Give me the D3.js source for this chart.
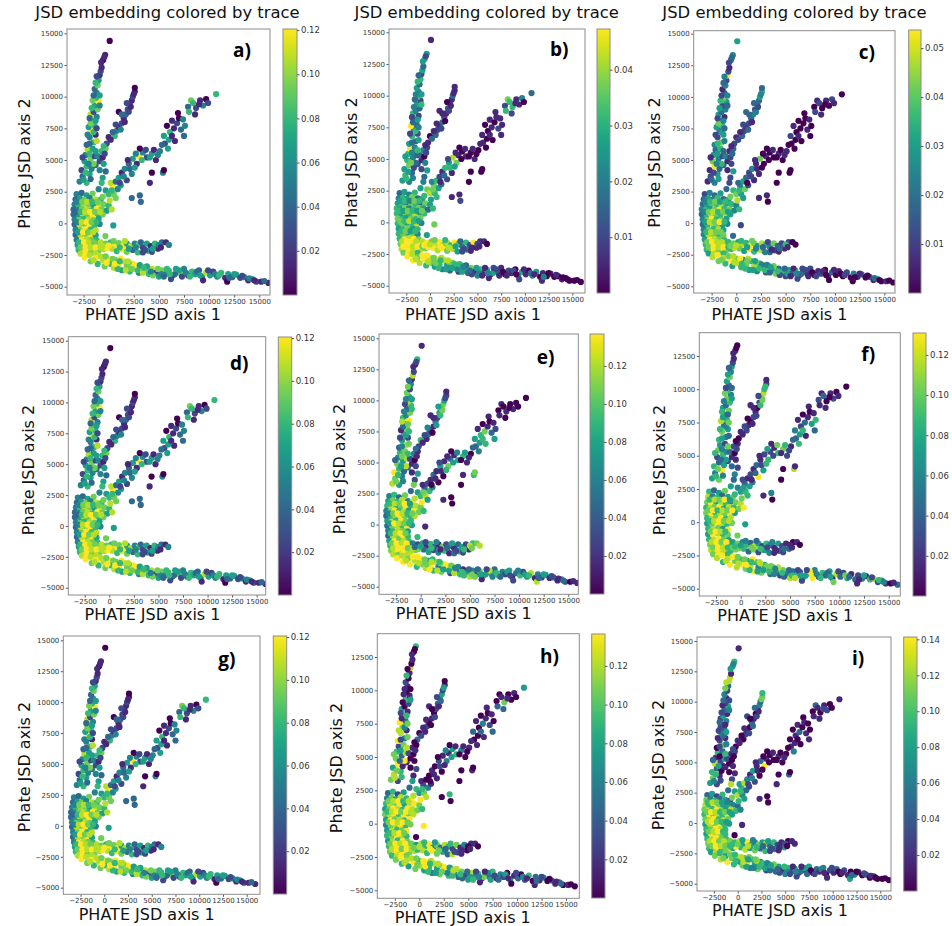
<!DOCTYPE html>
<html lang="en">
<head>
<meta charset="UTF-8" />
<title>JSD embedding colored by trace</title>
<script src="https://d3js.org/d3.v7.min.js"></script>
<style>
  body { margin: 0; background: #fff; }
  svg { display: block; font-family: "DejaVu Sans", sans-serif; }
  .tick text { fill: #333; }
  .tick line { stroke: #555; }
</style>
</head>
<body>
<svg width="952" height="926"></svg>
<script>
// ---- data ----
const xTicks = [-2500, 0, 2500, 5000, 7500, 10000, 12500, 15000];
const yTicks = [-5000, -2500, 0, 2500, 5000, 7500, 10000, 12500, 15000];
const panelNames = ["a)", "b)", "c)", "d)", "e)", "f)", "g)", "h)", "i)"];
const traceMax = [0.1205, 0.0473, 0.0537, 0.1205, 0.1368, 0.1309, 0.1205, 0.1365, 0.1413];
const cbTicks = [
  [0.02, 0.04, 0.06, 0.08, 0.10, 0.12],
  [0.01, 0.02, 0.03, 0.04],
  [0.01, 0.02, 0.03, 0.04, 0.05],
  [0.02, 0.04, 0.06, 0.08, 0.10, 0.12],
  [0.02, 0.04, 0.06, 0.08, 0.10, 0.12],
  [0.02, 0.04, 0.06, 0.08, 0.10, 0.12],
  [0.02, 0.04, 0.06, 0.08, 0.10, 0.12],
  [0.02, 0.04, 0.06, 0.08, 0.10, 0.12],
  [0.02, 0.04, 0.06, 0.08, 0.10, 0.12, 0.14]
];

// PHATE coordinates (axis 1, axis 2), shared by all panels
const core = [
  [-3200,2300],[-2700,2400],[-2200,2200],[-1600,2350],
  [-3300,1900],[-2850,1950],[-2400,1850],[-1900,2000],[-1300,1900],[-800,1850],
  [-3400,1500],[-3000,1450],[-2500,1550],[-2000,1500],[-1500,1450],[-1000,1550],[-500,1500],[0,1400],
  [-3500,1100],[-3100,1050],[-2650,1150],[-2200,1100],[-1700,1050],[-1200,1150],[-700,1100],[-200,1000],[300,1100],
  [-3500,700],[-3000,650],[-2600,750],[-2100,700],[-1600,650],[-1100,750],[-600,700],
  [-3400,300],[-2950,250],[-2500,350],[-2000,300],[-1500,250],[-1000,350],
  [-3400,-100],[-2900,-150],[-2400,-50],[-1900,-100],[-1400,-150],[-900,-50],
  [-3300,-500],[-2800,-550],[-2300,-450],[-1800,-500],[-1300,-550],
  [-3300,-900],[-2800,-950],[-2300,-850],[-1800,-900],[-1300,-950],
  [-3200,-1300],[-2700,-1350],[-2200,-1250],[-1700,-1300],[-1200,-1350],
  [-3100,-1700],[-2600,-1750],[-2100,-1650],[-1600,-1700],[-1100,-1750],
  [-3000,-2100],[-2500,-2150],[-2000,-2050],[-1500,-2100],[-1000,-2150],[-500,-2050],
  [-2800,-2400],[-2300,-2450],[-1800,-2350],[-1300,-2400],
  [460,-160],[-330,-1000]
];
const armA = [
  [-2900,3300],[-2200,3200],[-2600,3700],[-1900,3900],[-2700,4200],[-2200,4500],[-1700,4300],[-2400,4900],[-1800,5100],[-1400,5300],
  [-2300,5400],[-2100,5800],[-1600,5900],[-2200,6200],[-1500,6400],[-1900,6800],[-1300,7000],[-1700,7300],[-2000,7600],[-1400,7700],
  [-1600,8100],[-1200,8400],[-1800,8600],[-1500,8800],[-1100,9000],[-1400,9300],[-1000,9600],[-1300,9900],[-1200,10300],[-1400,10600],
  [-1100,10900],[-1000,11300],[-900,11700],[-800,12000],[-700,12300],[-550,12900],[-350,13300],[100,14400]
];
const armB = [
  [-1300,4600],[-900,4900],[-1100,5300],[-600,5200],[-700,5700],[-300,5900],[-200,6300],[0,6800],[600,6900],[800,7300],
  [1000,7600],[1300,7900],[1500,8300],[1700,8600],[1900,9000],[1000,8800],[2100,9400],[2300,9700],[2400,10000],[2600,10400],
  [2600,10700],[-600,3600],[-300,4100],[-900,4200],[-1000,2700],[-700,3200]
];
const armC = [
  [-600,2100],[-300,2600],[100,1800],[0,2300],[500,2300],[400,2900],[900,2700],[200,3200],[700,3300],[1200,3000],
  [1000,3600],[1300,4000],[1600,4300],[1800,3400],[2000,4700],[2400,5100],[2300,3900],[2800,4700],[3000,5300],[3400,5600],
  [3800,5200],[4300,5500],[4700,5000],[5100,5700],[5600,6300],[5900,5900],[5500,6900],[6100,7200],[6500,7500],[5800,7700],
  [6300,8100],[6900,8700],[7200,7400],[7600,7700],[6600,6500],[7500,6900],[8200,9700],[8400,9500],[8700,9100],[9100,9700],
  [9700,9800],[9400,9300],[8600,8600],[10700,10200],
  [3100,5900],[4300,4000],[4100,3200],[3100,2200],[3200,1700],[2300,2000],[5400,4000],[5500,4200]
];
const armD = [
  [-800,-1500],[-300,-1600],[200,-1500],[600,-1700],[1000,-1550],[1400,-1800],[1800,-1600],[2200,-1800],[2600,-1600],[3000,-1700],
  [3400,-1900],[3800,-1600],[4200,-1800],[4600,-1600],[4900,-2000],[5300,-1500],[5700,-1500],
  [300,-2000],[800,-2200],[1300,-2050],[1800,-2250],[2400,-2100],[2900,-2300],[3400,-2300],[3900,-2150],[4300,-2250],[-200,-1950],[5000,-1700]
];
const armE = [
  [-2400,-2700],[-1900,-2500],[-1800,-3000],[-1300,-2750],[-1100,-3200],[-600,-2900],[-400,-3400],[0,-2800],[200,-3200],[500,-3500],
  [700,-2900],[1000,-3300],[1300,-3700],[1500,-3000],[1800,-3400],[2100,-3800],[2400,-3200],[2700,-3600],[3000,-3900],[3300,-3400],
  [3600,-3700],[4000,-4000],[4300,-3600],[4700,-3900],[5000,-4200],[5300,-3700],[5700,-4000],[6000,-3750],[6400,-4100],[6800,-3800],
  [7200,-4000],[7500,-3600],[7900,-4100],[8300,-3800],[8600,-4000],[9000,-3700],[9300,-4200],[9700,-3900],[10100,-4100],[10400,-3800],
  [10800,-4200],[11200,-3900],[11600,-4300],[11900,-4000],[12300,-4250],[12700,-4050],[13100,-4300],[13500,-4250],[13900,-4500],[14300,-4400],
  [14700,-4600],[15200,-4600],[15900,-4700],[11800,-4600],[9400,-4500],[6200,-4400],
  [-800,-2600],[-200,-3100],[400,-2800],[900,-3600],[1200,-2800],[1700,-3700],[2000,-3100],[2600,-3300],[2900,-3700],[3400,-3900],
  [3800,-3400],[4400,-4100],[5200,-4000],[5800,-3600],[6600,-4000],[7000,-3700]
];
// second, denser layer of points filling the branches
const core2 = [
  [-3150,1700],[-2650,1700],[-2150,1700],[-1650,1700],[-1100,1700],
  [-3250,900],[-2800,900],[-2350,900],[-1850,900],[-1350,900],[-850,900],
  [-3150,100],[-2700,100],[-2200,100],[-1700,100],[-1200,100],
  [-3050,-700],[-2550,-700],[-2050,-700],[-1550,-700],
  [-2950,-1500],[-2450,-1500],[-1950,-1500],[-1450,-1500],
  [-2800,-1900],[-2300,-1900],[-1800,-1900],[-1300,-1900],[-800,-1900]
];
const armA2 = [
  [-2500,3450],[-1800,3500],[-2300,4000],[-1500,4700],[-2000,4700],[-2600,5200],[-1900,5500],[-1300,5700],[-1900,6300],[-1200,6500],
  [-2100,7000],[-1500,7200],[-1200,7500],[-1800,7900],[-1300,8100],[-1900,8300],[-1700,9100],[-900,9300],[-1600,9700],[-900,10100],
  [-1500,10100],[-1300,11100],[-1200,11600],[-750,12700],[-450,13100]
];
const armB2 = [
  [-500,4700],[-400,5500],[-500,6100],[200,6600],[400,7200],[1200,7400],[700,7800],[1600,8000],[1300,8600],[2000,8800],
  [2200,9200],[1800,9500],[2500,10200]
];
const armC2 = [
  [300,2600],[700,2000],[1500,3700],[1100,3200],[2100,4300],[2600,4400],[1900,5000],[2700,5500],[3300,5000],[3700,5800],
  [4100,5200],[4500,5800],[4900,5400],[5300,6200],[6000,6600],[6300,6900],[6800,7900],[7000,8300],[7400,8200],[7900,9200],
  [8000,8800],[9000,9400],[9900,9500]
];
const armD2 = [
  [-600,-1800],[0,-1750],[500,-1400],[1100,-1900],[1600,-1400],[2000,-2000],[2700,-1900],[3200,-1500],[3600,-2100],[4400,-2000],
  [5200,-1900],[6000,-1700]
];
const armE2 = [
  [-1500,-2900],[-300,-2600],[600,-3200],[1100,-3000],[1900,-3000],[2300,-3600],[3100,-3300],[3500,-3500],[4200,-3800],[4900,-3600],
  [5500,-4200],[6100,-4000],[6700,-3600],[7300,-4200],[7700,-3900],[8100,-4200],[8800,-3800],[9100,-4100],[9900,-3700],[10600,-4000],
  [11000,-4100],[12000,-4300],[12500,-4000],[13300,-4150],[14000,-4350],[14500,-4500],[15500,-4550]
];

// trace per point, in ninths of each panel's colour-bar maximum
// order: core, armA, armB, armC, armD, armE
const traceADG = [
  4,3,5,7, 3,5,7,4,8,6, 4,6,8,7,5,8,7,6, 3,4,7,8,6,9,7,5,8, 3,5,8,7,9,6,7, 4,7,6,8,7,5, 3,8,7,9,6,4,
  4,7,9,6,8, 3,8,7,9,5, 4,9,8,7,6, 5,9,8,9,7, 6,9,9,8,7,8, 8,9,7,8, 5,7,
  4,6,3,5,2,6,4,5,7,2, 4,8,5,3,6,4,1,9,5,6, 7,4,8,2,7,5,9,6,4,3, 7,5,1,2,1,0,1,0,
  3,2,4,1,6,7,2,1,6,4, 1,2,1,3,2,0,2,1,2,1, 0,5,3,4,4,6,
  7,5,8,6,7,9,4,8,3,5, 5,1,4,2,3,5,4,1,9,4, 2,5,1,4,2,5,5,6,1,0, 1,0,3,4,1,3,7,6,2,1, 0,4,1,6, 0,0,1,3,3,3,4,0,
  8,7,6,9,7,9,5,8,4,7, 2,5,1,6,1,3,1, 8,6,9,7,3,6,2,5,2,9,4,
  9,8,7,9,6,8,7,9,6,8, 7,9,5,8,7,6,9,8,4,9, 7,6,8,2,5,7,4,6,3,5, 7,4,2,6,5,3,4,8,5,2, 4,6,1,5,3,5,2,4,1,5, 2,1,1,0,1,2,
  8,9,7,6,9,8,7,9,6,8,5,7,4,6,3,5
];
const traceB = [
  3,5,4,6, 4,6,5,7,3,5, 5,6,4,7,6,3,7,5, 6,5,7,4,6,7,5,3,6, 6,5,7,6,8,5,6, 7,6,5,7,6,7, 6,7,5,6,8,4,
  5,6,7,5,6, 6,7,5,7,4, 6,9,8,9,7, 7,9,9,8,9, 8,9,9,9,8,7, 7,9,8,6, 7,5,
  5,4,6,3,5,7,2,6,4,3, 6,9,4,5,3,6,2,4,9,3, 5,2,6,4,3,5,2,6,4,5, 3,6,2,5,3,6,5,1,
  2,1,3,0,4,2,1,0,3,2, 1,3,2,1,2,1,2,1,3,1, 1,3,5,2,5,4,
  6,7,5,8,6,7,5,4,6,3, 2,1,6,2,5,8,1,7,1,0, 1,0,1,0,1,0,1,0,1,0, 1,1,2,1,0,1,7,6,6,1, 4,1,2,3, 0,0,0,1,2,1,0,0,
  8,9,7,8,9,7,8,6,9,7, 3,6,2,9,1,1,1, 9,8,9,7,8,5,2,4,1,9,2,
  9,8,9,7,8,9,6,8,7,5, 9,6,4,8,5,3,7,6,2,6, 5,3,7,1,4,6,1,5,1,0, 3,1,0,2,1,0,4,5,1,0, 4,5,0,1,0,1,0,0,1,0, 0,0,0,1,2,1,
  9,8,7,6,8,5,7,6,4,5,3,2,4,1,5,2
];
const traceC = [
  2,4,3,5, 3,5,4,6,3,5, 3,5,7,6,8,5,6,4, 4,6,5,7,9,6,7,4,6, 3,6,8,7,6,8,5, 4,7,9,6,7,5, 3,6,8,7,5,4,
  4,7,6,8,5, 4,8,7,6,7, 5,9,8,7,6, 6,8,9,9,7, 6,9,8,9,7,6, 5,8,7,6, 2,3,
  1,4,2,5,1,9,3,7,4,2, 5,3,6,4,7,2,5,3,5,6, 4,1,5,3,4,2,5,7,3,1, 4,2,9,2,1,3,4,5,
  3,1,4,2,1,3,2,1,3,2, 1,2,3,4,2,3,4,3,5,6, 3,2,5,1,3,2,
  7,6,8,7,5,4,7,3,5,2, 3,2,4,1,1,7,1,0,1,0, 0,1,0,1,0,0,2,0,0,1, 0,0,1,0,0,0,1,2,0,1, 2,0,1,0, 0,0,0,1,0,1,0,0,
  6,7,5,8,6,9,7,5,8,6, 4,7,3,2,1,2,0, 7,5,9,6,8,4,3,2,1,8,6,
  8,9,7,8,6,9,5,7,8,6, 4,7,5,6,8,4,5,7,3,6, 4,7,3,6,2,5,2,6,1,3, 1,2,0,1,2,0,1,3,0,1, 0,2,0,4,1,3,0,2,1,6, 0,1,0,0,0,2,
  7,8,9,6,8,5,7,4,6,3,7,2,5,1,3,2
];
const traceE = [
  4,6,3,7, 5,7,6,8,4,9, 6,8,5,7,9,6,8,7, 4,7,9,6,8,5,9,7,6, 3,6,8,9,7,6,8, 5,8,6,9,7,6, 3,7,8,6,9,5,
  4,6,8,7,5, 3,8,7,9,6, 5,9,7,8,6, 6,8,9,7,8, 7,9,8,9,8,7, 8,7,9,8, 1,6,
  8,5,7,4,9,6,3,7,5,8, 4,6,7,3,8,5,2,6,1,7, 5,9,6,4,7,3,6,8,5,7, 2,4,1,8,2,1,6,1,
  3,1,2,0,4,1,2,6,1,3, 2,1,4,2,5,1,6,7,5,2, 1,2,5,1,3,7,
  8,5,9,6,8,3,6,1,2,4, 1,3,1,0,5,1,0,7,3,1, 5,6,1,0,3,4,5,6,7,1, 0,1,3,2,6,5,1,0,1,0, 0,1,0,0, 0,1,0,0,0,1,6,7,
  4,2,5,1,6,3,1,7,2,4, 1,3,5,2,1,6,7, 3,5,2,4,6,1,3,5,2,7,8,
  9,8,9,7,9,8,6,9,7,8, 5,9,6,8,4,7,9,5,2,8, 3,6,1,5,8,4,2,7,6,1, 5,3,6,4,2,5,1,3,6,2, 5,8,1,4,2,5,1,3,1,4, 2,0,1,8,2,1,
  9,8,7,9,6,8,7,9,5,8,4,6,7,3,5,8
];
const traceF = [
  6,3,5,7, 8,4,6,3,5,7, 7,9,5,8,6,4,7,8, 6,8,7,9,5,8,6,7,9, 7,9,6,8,7,9,5, 6,8,7,9,6,8, 5,7,9,8,6,7,
  6,8,7,5,9, 5,9,8,6,7, 6,8,9,7,5, 7,9,8,9,6, 8,9,9,8,6,7, 7,9,8,6, 5,7,
  5,7,4,9,6,3,5,2,6,4, 7,5,2,6,4,7,5,3,8,6, 4,7,5,3,6,7,4,6,3,5, 7,4,5,2,1,1,0,0,
  2,1,3,0,2,1,0,1,2,1, 0,2,1,0,2,1,7,8,6,2, 1,4,2,3,5,3,
  6,4,7,5,6,3,5,2,1,4, 2,1,3,9,1,2,5,6,2,1, 6,7,2,1,3,6,4,2,3,1, 0,1,5,6,1,3,1,3,0,1, 0,2,1,0, 1,0,0,4,0,1,8,1,
  5,7,4,6,3,8,5,2,6,4, 1,5,2,1,3,0,1, 6,3,7,2,5,4,1,3,2,7,1,
  8,9,6,8,9,7,8,6,9,7, 5,8,9,6,4,7,5,8,3,6, 5,2,7,4,8,3,6,2,5,3, 9,4,2,6,3,5,1,8,3,2, 5,1,3,2,4,1,6,8,2,4, 1,0,3,1,7,2,
  9,8,7,6,9,5,8,7,6,4,8,3,6,2,5,9
];
const traceH = [
  3,6,2,5, 4,7,5,8,6,9, 6,8,7,9,5,8,9,7, 5,7,9,8,6,9,8,7,6, 7,8,9,6,9,7,8, 5,9,7,8,6,9, 4,7,8,9,6,7,
  5,8,6,7,9, 6,7,9,8,6, 5,8,6,9,7, 6,8,9,7,8, 7,9,8,9,7,8, 6,8,9,7, 9,0,
  7,2,8,6,5,9,1,7,3,8, 6,2,7,9,4,8,1,7,9,3, 8,1,5,0,2,6,1,0,1,2, 0,1,8,0,1,0,6,0,
  1,0,2,0,1,0,3,0,1,2, 0,1,0,2,3,1,4,5,2,1, 0,1,2,0,3,5,
  8,6,9,5,7,2,4,1,0,1, 0,1,0,1,2,1,0,4,1,5, 6,4,0,1,0,1,3,0,4,1, 0,1,2,0,1,3,0,1,7,0, 1,0,3,5, 0,0,0,6,0,0,1,0,
  7,5,8,6,9,4,7,3,8,6, 2,7,1,4,0,1,1, 8,6,9,7,5,3,8,2,1,6,0,
  7,9,6,8,5,9,7,6,8,5, 9,6,4,8,5,7,9,4,6,8, 5,3,7,2,5,8,4,6,1,5, 3,6,1,4,2,0,5,1,3,0, 2,6,0,3,1,4,0,2,1,3, 0,1,0,1,0,1,
  8,7,9,6,8,5,7,9,4,6,8,3,5,2,7,4
];
const traceI = [
  3,5,2,6, 7,4,6,3,5,2, 8,6,9,7,5,6,4,3, 7,8,6,9,7,5,8,6,4, 6,9,7,8,6,9,5, 7,8,9,6,8,7, 5,8,7,9,6,5,
  6,7,9,8,6, 5,9,8,7,6, 6,8,9,7,6, 7,9,8,9,6, 6,8,9,7,8,5, 5,8,6,7, 1,0,
  5,2,7,1,6,3,0,8,2,5, 1,6,3,0,7,2,1,5,2,3, 1,4,2,5,1,3,5,2,1,4, 2,3,8,8,1,5,6,1,
  1,0,2,0,1,2,0,1,0,2, 1,0,3,1,0,2,1,4,3,7, 6,2,1,0,3,8,
  7,5,6,8,4,6,3,5,8,2, 4,1,5,2,1,3,0,9,1,0, 0,1,0,0,1,4,0,1,3,0, 1,0,1,0,0,1,3,1,0,1, 0,2,1,1, 0,0,1,0,0,1,3,0,
  7,6,8,5,9,6,4,7,5,8, 3,6,2,1,5,0,1, 6,8,5,7,3,6,2,4,1,9,2,
  7,6,8,5,9,7,6,8,5,7, 6,9,4,6,5,7,4,6,2,5, 6,3,5,1,4,6,2,5,1,4, 2,5,0,3,1,4,0,2,1,3, 0,2,1,0,4,1,0,2,0,1, 0,0,0,5,1,2,
  7,6,8,5,7,4,8,6,5,3,7,2,4,1,3,5
];
// traces of the second layer, order: core2, armA2, armB2, armC2, armD2, armE2
const fillADG = [
  4,7,8,6,7, 3,6,8,9,7,8, 4,8,9,7,6, 5,9,7,8, 6,9,8,7, 7,9,8,9,8,
  5,3,6,7,4,2,6,5,3,8, 4,6,2,7,5,3,6,4,7,5, 3,6,2,1,1,
  5,2,6,1,3,4,2,1,3,2, 1,2,1,
  6,7,4,2,3,5,1,4,6,2, 5,1,4,3,5,1,2,0,4,3, 6,1,2,
  8,9,7,6,8,5,4,3,2,5, 1,4,
  8,7,9,6,8,7,5,6,4,7, 3,6,5,2,4,6,3,5,2,4, 6,3,5,2,4,1,3
];
const fillB = [
  5,6,4,7,6, 6,5,7,6,5,7, 7,6,8,6,5, 6,7,5,6, 8,9,9,8, 9,9,8,9,7,
  6,4,5,3,7,5,4,6,3,5, 2,6,4,3,5,2,4,6,3,5, 4,6,3,5,2,
  4,2,1,3,1,2,1,0,1,2, 1,0,1,
  7,6,3,1,6,5,2,1,0,1, 0,1,0,1,0,1,0,1,1,2, 6,1,0,
  9,8,7,9,6,8,5,3,2,1, 1,0,
  8,9,7,6,8,5,6,4,3,5, 1,4,2,1,0,1,2,0,1,3, 1,4,0,1,0,0,0
];
const fillC = [
  4,6,7,5,6, 4,7,8,6,7,5, 5,8,7,9,6, 6,8,7,7, 7,9,8,8, 7,9,8,9,6,
  3,5,2,6,4,1,5,3,6,4, 2,5,3,7,4,2,5,3,6,4, 2,3,4,2,3,
  2,3,1,2,1,3,2,1,3,4, 2,3,4,
  6,5,2,0,1,0,1,0,0,1, 0,0,1,0,0,1,0,0,1,0, 2,0,1,
  7,8,6,5,7,4,3,2,1,3, 1,0,
  7,8,6,7,5,6,4,5,6,3, 1,4,2,1,0,2,1,0,1,0, 2,0,1,0,3,0,0
];
const fillE = [
  6,8,7,9,5, 4,7,9,8,6,7, 5,9,8,7,6, 6,8,9,7, 7,9,8,9, 8,9,9,7,8,
  7,4,6,8,5,3,7,6,4,7, 2,5,6,3,7,8,4,6,2,5, 4,7,3,1,2,
  2,1,3,1,2,0,4,5,1,6, 7,5,2,
  7,5,1,0,1,6,2,1,5,4, 0,5,1,3,5,6,1,0,1,0, 1,0,0,
  3,5,2,6,4,1,3,5,2,6, 7,8,
  8,9,7,8,6,5,7,4,6,3, 7,5,2,4,6,3,5,2,4,5, 6,3,5,2,1,3,1
];
const fillF = [
  6,8,7,9,5, 7,9,6,8,7,9, 6,8,9,7,8, 7,9,8,6, 8,9,7,9, 7,9,8,6,7,
  6,4,7,5,3,6,4,7,5,3, 6,4,7,5,3,6,4,5,7,3, 2,5,3,1,0,
  1,2,0,1,2,1,0,2,1,6, 7,2,6,
  5,6,3,1,2,6,1,5,2,7, 1,6,2,3,5,6,1,0,1,2, 1,0,1,
  6,5,4,7,3,6,2,4,1,3, 1,0,
  8,7,9,6,8,5,7,4,6,3, 8,5,2,9,4,6,3,5,2,7, 3,1,5,2,6,4,1
];
const fillH = [
  7,8,9,6,8, 6,8,9,7,9,8, 7,9,8,9,7, 6,8,9,7, 7,9,8,9, 8,9,7,9,8,
  8,6,7,9,3,7,5,8,2,7, 8,4,7,1,6,2,0,5,1,0, 1,6,0,1,0,
  0,1,0,2,1,0,1,2,0,1, 3,2,5,
  6,8,1,0,2,1,0,4,5,1, 0,1,0,1,0,3,1,0,1,0, 3,1,0,
  7,8,6,9,5,7,3,6,2,1, 1,0,
  8,7,9,6,8,7,5,8,6,3, 6,4,1,5,2,3,5,1,2,4, 1,3,2,0,1,3,0
];
const fillI = [
  6,8,7,5,4, 7,9,8,6,7,5, 8,9,7,6,5, 7,8,9,6, 8,9,7,8, 7,9,8,7,6,
  4,2,6,1,5,3,0,6,2,4, 1,3,5,2,1,3,2,4,1,2, 3,7,8,5,4,
  1,0,2,1,0,2,1,3,0,2, 1,3,7,
  6,5,4,2,1,0,1,0,0,1, 0,0,1,0,1,0,0,1,0,0, 1,2,0,
  6,7,5,8,4,6,3,5,2,1, 0,1,
  7,6,8,5,7,6,4,5,3,6, 2,4,1,3,0,2,4,1,2,0, 1,3,0,2,1,0,0
];

// ---- layout (pixels), one entry per panel ----
const panels = [
  { box: [67, 29, 270, 295],        xd: [-4153, 16066], yd: [-5655, 15339], cb: [283, 29, 297, 295],     title: 167.5, xl: [153, 320],   yl: [30, 163.5],  lab: [233, 57] },
  { box: [389, 29, 585, 293],       xd: [-4322, 16338], yd: [-5576, 15260], cb: [597, 29, 610, 293],     title: 486.7, xl: [473, 320],   yl: [356.7, 162.5], lab: [550, 56] },
  { box: [693.7, 30.7, 895, 293],   xd: [-4317, 16084], yd: [-5530, 15237], cb: [908.7, 30, 921, 293],   title: 794.5, xl: [779.5, 320], yl: [660.4, 162.5], lab: [858.7, 59] },
  { box: [68.3, 336.7, 265.7, 595], xd: [-4172, 15915], yd: [-5591, 15324], cb: [278.3, 337, 291.7, 595], xl: [152.5, 620], yl: [34.4, 470], lab: [230, 370] },
  { box: [379, 334, 578.3, 594.3],  xd: [-4238, 16016], yd: [-5612, 15346], cb: [590, 334, 604, 594],   xl: [463.8, 618.5], yl: [345, 469], lab: [536.7, 364] },
  { box: [699.3, 332.7, 900.3, 596], xd: [-4196, 16175], yd: [-5549, 14252], cb: [913, 333, 926, 596],  xl: [785.3, 621], yl: [665.4, 470], lab: [861.3, 361] },
  { box: [63.3, 636, 260, 894.3],   xd: [-4319, 16402], yd: [-5534, 15348], cb: [273.3, 636, 286.7, 894], xl: [146.7, 919.5], yl: [30, 767], lab: [218.3, 666] },
  { box: [377.3, 633.7, 579.3, 898.3], xd: [-4294, 16360], yd: [-5600, 14248], cb: [591.7, 634, 605, 898], xl: [462.8, 923], yl: [341.7, 768], lab: [540, 663] },
  { box: [697, 637, 891, 891],      xd: [-4281, 16125], yd: [-5602, 15330], cb: [903.7, 637, 917, 891],  xl: [780, 915.5], yl: [664.4, 765], lab: [852, 665] }
];

const traces = [
  traceADG.concat(fillADG), traceB.concat(fillB), traceC.concat(fillC),
  traceADG.concat(fillADG), traceE.concat(fillE), traceF.concat(fillF),
  traceADG.concat(fillADG), traceH.concat(fillH), traceI.concat(fillI)
];
const points = [].concat(core, armA, armB, armC, armD, armE, core2, armA2, armB2, armC2, armD2, armE2);

const svg = d3.select("svg");
const defs = svg.append("defs");

// viridis gradient for the colour bars
const grad = defs.append("linearGradient").attr("id", "viridis")
  .attr("x1", 0).attr("y1", 1).attr("x2", 0).attr("y2", 0);
d3.range(0, 1.0001, 0.05).forEach(t => {
  grad.append("stop").attr("offset", t).attr("stop-color", d3.interpolateViridis(t));
});

panels.forEach((p, i) => {
  const [x0, y0, x1, y1] = p.box;
  const x = d3.scaleLinear().domain(p.xd).range([x0, x1]);
  const y = d3.scaleLinear().domain(p.yd).range([y1, y0]);
  const vmax = traceMax[i];
  const colour = d3.scaleSequential(d3.interpolateViridis).domain([0, vmax]);
  const tr = traces[i];
  if (tr.length !== points.length) console.warn("trace length", i, tr.length, points.length);

  const g = svg.append("g");

  defs.append("clipPath").attr("id", "clip" + i)
    .append("rect").attr("x", x0).attr("y", y0).attr("width", x1 - x0).attr("height", y1 - y0);

  const data = points
    .map((d, k) => ({ px: d[0], py: d[1], v: (tr[k] || 0) / 9 * vmax }))
    .filter(d => d.py <= p.yd[1]);

  g.append("g").attr("clip-path", `url(#clip${i})`)
    .selectAll("circle")
    .data(data)
    .join("circle")
    .attr("cx", d => x(d.px))
    .attr("cy", d => y(d.py))
    .attr("r", 3.1)
    .attr("fill", d => colour(d.v));

  // axes
  const xa = g.append("g").attr("transform", `translate(0,${y1})`)
    .call(d3.axisBottom(x).tickValues(xTicks).tickSize(2.5).tickPadding(1.5).tickFormat(d3.format("")));
  const ya = g.append("g").attr("transform", `translate(${x0},0)`)
    .call(d3.axisLeft(y).tickValues(yTicks.filter(t => t <= p.yd[1])).tickSize(2.5).tickPadding(1.5).tickFormat(d3.format("")));
  [xa, ya].forEach(a => {
    a.select(".domain").remove();
    a.selectAll("text").attr("font-size", 7).attr("font-family", "DejaVu Sans");
  });

  g.append("rect")
    .attr("x", x0).attr("y", y0).attr("width", x1 - x0).attr("height", y1 - y0)
    .attr("fill", "none").attr("stroke", "#8c8c8c").attr("stroke-width", 1);

  // colour bar
  const [c0, cy0, c1, cy1] = p.cb;
  const cs = d3.scaleLinear().domain([0, vmax]).range([cy1, cy0]);
  g.append("rect").attr("x", c0).attr("y", cy0).attr("width", c1 - c0).attr("height", cy1 - cy0)
    .attr("fill", "url(#viridis)").attr("stroke", "#8c8c8c").attr("stroke-width", 1);
  const ca = g.append("g").attr("transform", `translate(${c1},0)`)
    .call(d3.axisRight(cs).tickValues(cbTicks[i]).tickSize(2.5).tickPadding(1.5).tickFormat(d3.format(".2f")));
  ca.select(".domain").remove();
  ca.selectAll("text").attr("font-size", 8.5).attr("font-family", "DejaVu Sans");

  // texts
  if (p.title !== undefined) {
    svg.append("text").attr("x", p.title).attr("y", 18).attr("text-anchor", "middle")
      .attr("font-size", 16.4).attr("fill", "#111").text("JSD embedding colored by trace");
  }
  svg.append("text").attr("x", p.xl[0]).attr("y", p.xl[1]).attr("text-anchor", "middle")
    .attr("font-size", 16).attr("fill", "#111").text("PHATE JSD axis 1");
  svg.append("text").attr("transform", `translate(${p.yl[0]},${p.yl[1]}) rotate(-90)`)
    .attr("text-anchor", "middle").attr("font-size", 16).attr("fill", "#111").text("Phate JSD axis 2");
  svg.append("text").attr("x", p.lab[0]).attr("y", p.lab[1])
    .attr("font-family", "Open Sans, sans-serif").attr("font-weight", 700).attr("font-size", 19)
    .attr("fill", "#000").text(panelNames[i]);
});
</script>
</body>
</html>
